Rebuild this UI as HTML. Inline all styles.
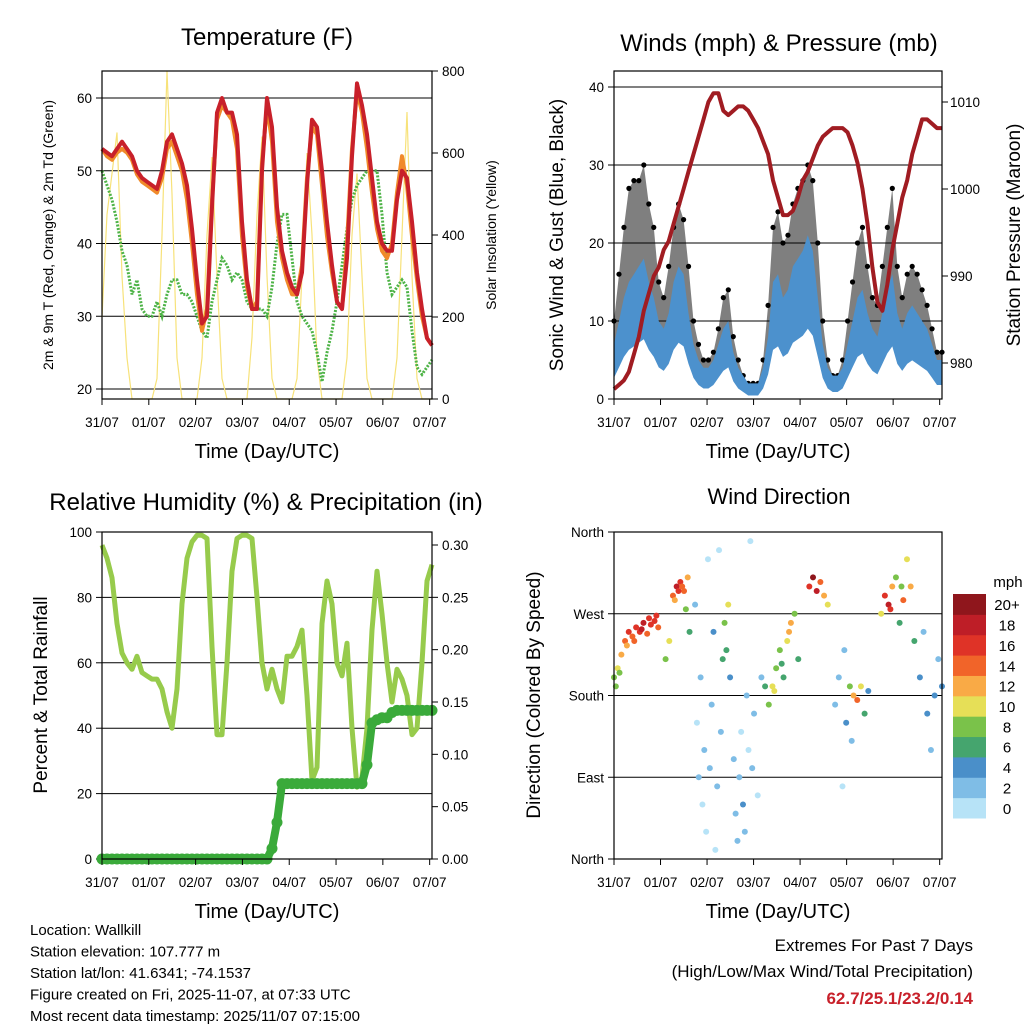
<!DOCTYPE html>
<html>
<head>
<meta charset="utf-8">
<style>
html,body{margin:0;padding:0;background:#fff;}
body{width:1024px;height:1024px;overflow:hidden;font-family:"Liberation Sans",Arial,sans-serif;}
svg text{font-family:"Liberation Sans",Arial,sans-serif;fill:#000;}
</style>
</head>
<body>
<svg id="chart" width="1024" height="1024" viewBox="0 0 1024 1024" xmlns="http://www.w3.org/2000/svg"></svg>
<script>
// ---------- DATA ----------
const dayLabels = ["31/07","01/07","02/07","03/07","04/07","05/07","06/07","07/07"];
const totalHours = 168;
const tempRed = [53,52.5,52,53,54,53,52,50,49,48.5,48,47.5,50,54,55,53,51,48,42,35,29,30,45,58,60,58,58,55,43,35,31,31,50,60,56,45,39,36,34,33,36,48,57,56,50,43,37,32,31,38,52,62,59,55,49,43,40,39,39,46,50,49,43,36,31,27,26];
const tempOrange = [53,52,51.5,52.5,53,52.5,51.5,49.5,48.5,48,47.5,47,49,53,54,52,50,46,40,33,28,31,46,57,59,58,57,53,41,34,31,32,51,59,54,43,38,35,33,33,37,49,56,55,48,41,36,32,31,40,53,61,58,53,47,42,39,38,40,47,52,48,41,35,30,27,26];
const dewPoint = [50,48,46,43,39,37,33,35,31,30,30,32,30,33,35,35,33,33,32,30,28,27,32,35,38,37,35,36,35,32,31,31,31,30,34,40,44,44,38,32,30,29,28,25,21,25,28,32,37,42,46,48,49,50,50,50,44,36,33,34,35,34,28,23,22,23,24];
const solar = [200,450,550,650,300,100,0,0,0,0,0,50,400,800,500,100,0,0,0,0,100,400,590,300,50,0,0,0,0,0,150,450,640,300,50,0,0,0,0,50,300,600,400,100,0,0,0,0,0,100,400,550,300,50,0,0,0,0,0,100,400,700,300,50,0,0,0];
const tempTicks = [20,30,40,50,60];
const solarTicks = [0,200,400,600,800];
const pressure = [977,977.5,978,979,981,983,986,988,990,991,993,994,996,998,1000,1002,1004,1006,1008,1010,1011,1011,1009,1008.5,1009,1009.5,1009.5,1009,1008,1007,1005.5,1004,1001,999,997,997,997.5,999,1001,1002,1003.5,1005,1006,1006.5,1007,1007,1007,1006.5,1005,1003,1000,996,991,987,986,989,993,996,999,1001,1004,1006,1008,1008,1007.5,1007,1007];
const windSpeed = [6,9,12,14,15,16,17,14,12,9,8,10,14,16,15,10,6,4,3,3,4,6,8,9,5,3,2,1,1,1,3,7,14,15,12,13,16,17,18,20,18,12,6,3,2,2,3,6,9,12,13,10,8,7,10,13,15,10,8,10,11,10,9,8,6,4,4];
const windGust = [10,16,22,27,28,28,30,25,22,15,13,17,22,25,23,17,10,7,5,5,6,9,13,14,8,5,3,2,2,2,5,12,22,24,20,21,25,27,28,30,28,20,10,5,3,3,5,10,15,20,22,17,13,12,17,22,27,17,13,16,17,16,14,12,9,6,6];
const windTicks = [0,10,20,30,40];
const pressTicks = [980,990,1000,1010];
const relHum = [96,92,86,72,63,60,58,62,57,56,55,55,52,45,40,52,78,92,97,99,99,98,65,38,38,60,88,98,99,99,98,80,60,52,58,52,48,62,62,65,70,50,24,28,72,85,78,60,56,66,40,22,25,40,70,88,75,60,48,58,55,50,38,40,60,85,90];
const rainTotal = [0,0,0,0,0,0,0,0,0,0,0,0,0,0,0,0,0,0,0,0,0,0,0,0,0,0,0,0,0,0,0,0,0,0,0.01,0.035,0.072,0.072,0.072,0.072,0.072,0.072,0.072,0.072,0.072,0.072,0.072,0.072,0.072,0.072,0.072,0.072,0.072,0.09,0.13,0.133,0.135,0.135,0.14,0.142,0.142,0.142,0.142,0.142,0.142,0.142,0.142];
const rhTicks = [0,20,40,60,80,100];
const rainTicks = ["0.00","0.05","0.10","0.15","0.20","0.25","0.30"];
const dirHour = [0,2,4,6,8,10,12,14,16,18,20,22,24,3,7,11,15,19,23,1,28,30,32,34,36,38,40,33,35,37,39,41,44,45,46,47,48,49,50,51,52,53,54,55,56,57,58,59,60,61,62,63,65,66,67,68,69,70,71,72,73,74,75,76,78,80,82,84,86,88,90,92,94,96,98,100,87,91,95,106,108,110,112,114,116,120,122,124,126,128,130,132,134,136,138,125,129,145,147,149,151,153,155,157,159,161,163,150,156,166,168,170,172,174,176,178];
const dirDeg = [200,210,225,240,250,245,255,250,260,248,258,262,255,205,235,240,253,265,268,190,220,240,290,300,305,295,310,285,295,300,275,250,280,150,90,200,60,120,30,330,100,170,250,10,80,340,140,220,260,230,280,200,110,50,20,90,140,60,30,180,120,350,100,160,70,200,190,170,190,210,230,200,240,260,270,220,185,215,250,300,310,295,305,290,280,170,200,80,150,190,180,175,190,160,185,230,130,270,290,280,300,310,260,285,330,300,240,275,300,200,250,160,120,180,220,190];
const dirSpeed = [8,10,12,14,16,15,17,16,18,15,17,16,14,9,12,14,18,17,16,8,8,10,14,18,16,15,12,13,17,14,8,6,2,1,2,3,1,2,1,0,2,3,4,1,2,1,3,6,8,7,10,5,2,3,2,3,1,4,2,2,1,0,2,3,1,2,6,8,10,9,8,6,10,12,8,6,11,7,12,16,20,18,14,12,10,3,2,1,4,8,12,14,10,6,5,2,3,10,16,18,12,8,6,14,10,12,6,17,9,4,3,4,3,5,2,4];
const dirTickLabels = ["North","East","South","West","North"];
const speedBins = ["0","2","4","6","8","10","12","14","16","18","20+"];
const speedColors = ["#b7e3f7","#7fbde6","#4a8fc9","#45a56e","#7ac24a","#e6df57","#f9aa46","#f16429","#df3327","#be1e27","#8f161c"];

// ---------- helpers ----------
const svg = document.getElementById('chart');
const NS = 'http://www.w3.org/2000/svg';
function mk(tag, attrs, parent){
  const e = document.createElementNS(NS, tag);
  for (const k in attrs) e.setAttribute(k, attrs[k]);
  (parent||svg).appendChild(e);
  return e;
}
function txt(s, x, y, size, anchor, parent, rot){
  const t = mk('text', {x:x, y:y, 'font-size':size, 'text-anchor':anchor||'middle'}, parent);
  if (rot) t.setAttribute('transform', 'rotate(' + rot + ' ' + x + ' ' + y + ')');
  t.textContent = s;
  return t;
}
function lin(d0, d1, r0, r1){ return v => r0 + (v - d0) * (r1 - r0) / (d1 - d0); }
function idxX(arr, x0, x1){ return i => x0 + (i / (arr.length - 1)) * (x1 - x0); }
function poly(vals, xf, yf){ return vals.map((v,i)=> xf(i).toFixed(1)+','+yf(v).toFixed(1)).join(' '); }

function frame(g, x0, y0, x1, y1){
  const r = mk('rect', {x:x0, y:y0, width:x1-x0, height:y1-y0, fill:'none', stroke:'#000', 'stroke-width':1.2}, g);
  
  
}
function timeAxis(g, x0, x1, yb){
  dayLabels.forEach((d,i)=>{
    const x = x0 + i * (x1 - x0) / 7.05;
    mk('line', {x1:x, y1:yb, x2:x, y2:yb+6, stroke:'#000', 'stroke-width':1}, g);
    const t = txt(d, x, yb+28, 13.5, 'middle', g);
    
    
  });
  const tt = txt('Time (Day/UTC)', (x0+x1)/2, yb+59, 20, 'middle', g);
  
  
}

// ---------- Panel 1: Temperature ----------
(function(){
  const g = mk('g', {});
  
  
  const X0=102, X1=432, Y0=71, Y1=399;
  const y = lin(20, 60, 389, 98);
  const ys = lin(0, 800, 399, 71);
  tempTicks.forEach(v=>{
    mk('line', {x1:X0, y1:y(v), x2:X1, y2:y(v), stroke:'#000', 'stroke-width':1}, g);
    mk('line', {x1:X0-6, y1:y(v), x2:X0, y2:y(v), stroke:'#000'}, g);
    const t = txt(String(v), X0-10, y(v)+5, 13.5, 'end', g);
    
    
  });
  solarTicks.forEach(v=>{
    mk('line', {x1:X1, y1:ys(v), x2:X1+6, y2:ys(v), stroke:'#000'}, g);
    const t = txt(String(v), X1+10, ys(v)+5, 13.5, 'start', g);
    
    
  });
  const xs = idxX(solar, X0, X1);
  const s = mk('polyline', {points:poly(solar, xs, ys), fill:'none', stroke:'#f7e27a', 'stroke-width':1.2}, g);
  
  
  const xd = idxX(dewPoint, X0, X1);
  const d = mk('polyline', {points:poly(dewPoint, xd, y), fill:'none', stroke:'#4db346', 'stroke-width':3, 'stroke-dasharray':'2 1.5'}, g);
  
  
  const xo = idxX(tempOrange, X0, X1);
  const o = mk('polyline', {points:poly(tempOrange, xo, y), fill:'none', stroke:'#f08a2a', 'stroke-width':4, 'stroke-linejoin':'round'}, g);
  
  
  const xr = idxX(tempRed, X0, X1);
  const r = mk('polyline', {points:poly(tempRed, xr, y), fill:'none', stroke:'#c8202a', 'stroke-width':4, 'stroke-linejoin':'round'}, g);
  
  
  frame(g, X0, Y0, X1, Y1);
  timeAxis(g, X0, X1, Y1);
  const t1 = txt('Temperature (F)', 267, 45, 24, 'middle', g);
  
  
  const l1 = txt('2m & 9m T (Red, Orange) & 2m Td (Green)', 53, 235, 14, 'middle', g, -90);
  
  
  const r1 = txt('Solar Insolation (Yellow)', 496, 235, 14, 'middle', g, -90);
  
  
})();

// ---------- Panel 2: Winds & Pressure ----------
(function(){
  const g = mk('g', {});
  
  
  const X0=614, X1=942, Y0=71, Y1=399;
  const y = lin(0, 40, 399, 87);
  const yp = lin(980, 1010, 363, 102);
  windTicks.forEach(v=>{
    if (v>0) mk('line', {x1:X0, y1:y(v), x2:X1, y2:y(v), stroke:'#000', 'stroke-width':1}, g);
    mk('line', {x1:X0-6, y1:y(v), x2:X0, y2:y(v), stroke:'#000'}, g);
    const t = txt(String(v), X0-10, y(v)+5, 13.5, 'end', g);
    
    
  });
  pressTicks.forEach(v=>{
    mk('line', {x1:X1, y1:yp(v), x2:X1+6, y2:yp(v), stroke:'#000'}, g);
    const t = txt(String(v), X1+8, yp(v)+5, 13.5, 'start', g);
    
    
  });
  const xw = idxX(windSpeed, X0, X1);
  const gustPts = windGust.map((v,i)=>xw(i).toFixed(1)+','+y(v).toFixed(1));
  const basePts = windSpeed.map((v,i)=>xw(i).toFixed(1)+','+y(v).toFixed(1)).reverse();
  const gb = mk('polygon', {points:gustPts.concat(basePts).join(' '), fill:'#000', opacity:0.5}, g);
  
  
  windGust.forEach((v,i)=>{
    const c = mk('circle', {cx:xw(i), cy:y(v), r:2.6, fill:'#000'}, g);
    
    
  });
  const topPts = windSpeed.map((v,i)=>xw(i).toFixed(1)+','+y(v+1).toFixed(1));
  const lowPts = windSpeed.map((v,i)=>xw(i).toFixed(1)+','+y(Math.max(0,v*0.45)).toFixed(1)).reverse();
  const wb = mk('polygon', {points:topPts.concat(lowPts).join(' '), fill:'#4c91cd'}, g);
  
  
  const xp = idxX(pressure, X0, X1);
  const p = mk('polyline', {points:poly(pressure, xp, yp), fill:'none', stroke:'#a01c22', 'stroke-width':4, 'stroke-linejoin':'round'}, g);
  
  
  frame(g, X0, Y0, X1, Y1);
  timeAxis(g, X0, X1, Y1);
  const t1 = txt('Winds (mph) & Pressure (mb)', 779, 51, 24, 'middle', g);
  
  
  const l1 = txt('Sonic Wind & Gust (Blue, Black)', 563, 235, 19, 'middle', g, -90);
  
  
  const r1 = txt('Station Pressure (Maroon)', 1020, 235, 19, 'middle', g, -90);
  
  
})();

// ---------- Panel 3: RH & Precip ----------
(function(){
  const g = mk('g', {});
  
  
  const X0=102, X1=432, Y0=532, Y1=859;
  const y = lin(0, 100, 859, 532);
  const yr = lin(0, 0.30, 859, 545);
  rhTicks.forEach(v=>{
    if (v>0 && v<100) mk('line', {x1:X0, y1:y(v), x2:X1, y2:y(v), stroke:'#000', 'stroke-width':1}, g);
    mk('line', {x1:X0-6, y1:y(v), x2:X0, y2:y(v), stroke:'#000'}, g);
    const t = txt(String(v), X0-10, y(v)+5, 13.5, 'end', g);
    
    
  });
  rainTicks.forEach(v=>{
    const yy = yr(parseFloat(v));
    mk('line', {x1:X1, y1:yy, x2:X1+6, y2:yy, stroke:'#000'}, g);
    const t = txt(v, X1+10, yy+5, 13.5, 'start', g);
    
    
  });
  const xh = idxX(relHum, X0, X1);
  const h = mk('polyline', {points:poly(relHum, xh, y), fill:'none', stroke:'#97cb4c', 'stroke-width':5, 'stroke-linejoin':'round'}, g);
  
  
  const xr = idxX(rainTotal, X0, X1);
  const rl = mk('polyline', {points:poly(rainTotal, xr, yr), fill:'none', stroke:'#3aaa3a', 'stroke-width':8}, g);
  
  
  rainTotal.forEach((v,i)=>{
    const c = mk('circle', {cx:xr(i), cy:yr(v), r:5.5, fill:'#3aaa3a'}, g);
    
    
  });
  frame(g, X0, Y0, X1, Y1);
  timeAxis(g, X0, X1, Y1);
  const t1 = txt('Relative Humidity (%) & Precipitation (in)', 266, 510, 24, 'middle', g);
  
  
  const l1 = txt('Percent & Total Rainfall', 47, 695, 19, 'middle', g, -90);
  
  
})();

// ---------- Panel 4: Wind direction ----------
(function(){
  const g = mk('g', {});
  
  
  const X0=614, X1=942, Y0=532, Y1=859;
  const y = lin(0, 360, 859, 532);
  const x = lin(0, totalHours + 10, X0, X1);
  dirTickLabels.forEach((lab,i)=>{
    const yy = y(i*90);
    if (i>0 && i<4) mk('line', {x1:X0, y1:yy, x2:X1, y2:yy, stroke:'#000', 'stroke-width':1}, g);
    mk('line', {x1:X0-6, y1:yy, x2:X0, y2:yy, stroke:'#000'}, g);
    const t = txt(lab, X0-10, yy+5, 13.5, 'end', g);
    
    
  });
  dirHour.forEach((h,i)=>{
    const sp = dirSpeed[i];
    const bin = Math.min(10, Math.floor(sp/2));
    const c = mk('circle', {cx:x(h), cy:y(dirDeg[i]), r:3, fill:speedColors[bin]}, g);
    
    
  });
  frame(g, X0, Y0, X1, Y1);
  timeAxis(g, X0, X1, Y1);
  const t1 = txt('Wind Direction', 779, 504, 22, 'middle', g);
  
  
  const l1 = txt('Direction (Colored By Speed)', 540, 695, 19, 'middle', g, -90);
  
  
  const cb = mk('g', {});
  
  
  const bh = 224 / speedBins.length;
  speedBins.forEach((lab,i)=>{
    const yy = 818 - (i+1)*bh;
    const r = mk('rect', {x:953, y:yy, width:33, height:bh+0.5, fill:speedColors[i]}, cb);
    
    
    const t = txt(lab, 1007, yy+bh/2+6, 15, 'middle', cb);
    
    
  });
  const m = txt('mph', 1008, 587, 15, 'middle', cb);
  
  
})();

// ---------- Footer ----------
(function(){
  const g = mk('g', {});
  
  
  const lines = ["Location: Wallkill","Station elevation: 107.777 m","Station lat/lon: 41.6341; -74.1537","Figure created on Fri, 2025-11-07, at 07:33 UTC","Most recent data timestamp: 2025/11/07 07:15:00"];
  lines.forEach((s,i)=>{
    const t = txt(s, 30, 935 + i*21.5, 15, 'start', g);
    
    
  });
  const e1 = txt('Extremes For Past 7 Days', 973, 951, 17, 'end');
  
  
  const e2 = txt('(High/Low/Max Wind/Total Precipitation)', 973, 977, 17, 'end');
  
  
  const e3 = txt('62.7/25.1/23.2/0.14', 973, 1004, 17, 'end');
  e3.setAttribute('style', 'fill:#c8202a;font-weight:bold');
  
  
})();
</script>
</body>
</html>
